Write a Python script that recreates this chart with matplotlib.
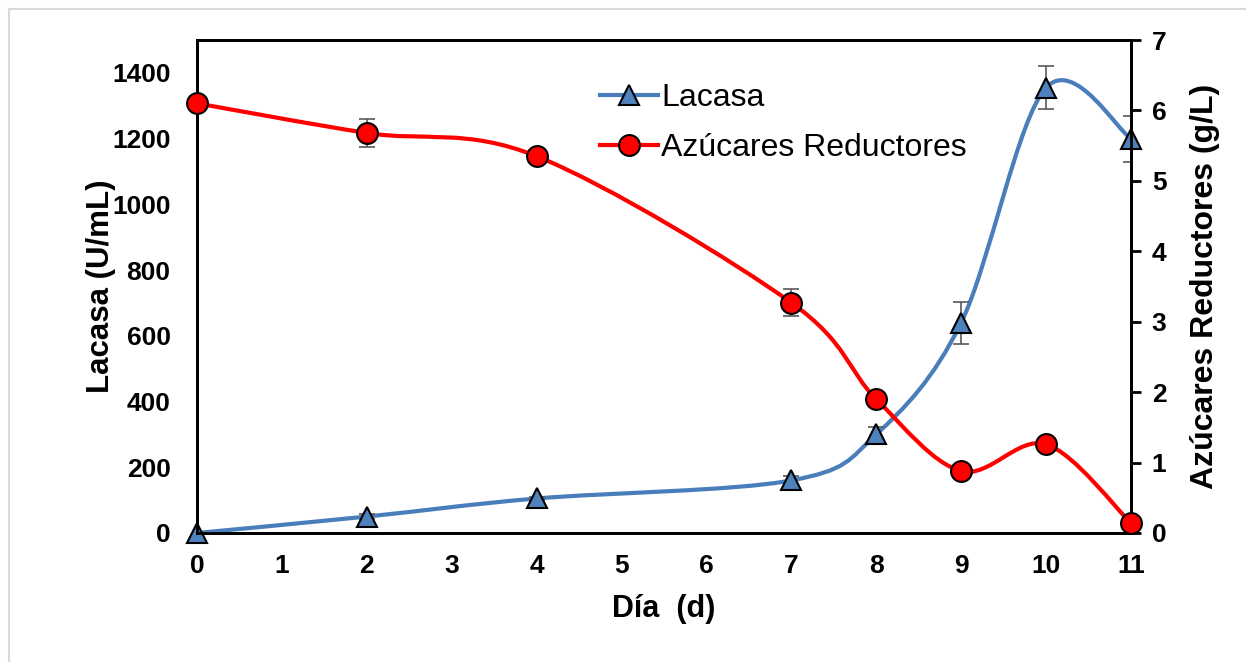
import numpy as np
import matplotlib
matplotlib.use("Agg")
import matplotlib.pyplot as plt
from matplotlib.path import Path
from matplotlib.patches import PathPatch, Rectangle

plt.rcParams['font.family'] = ['Liberation Sans', 'DejaVu Sans']

# Data
dias = [0, 2, 4, 7, 8, 9, 10, 11]
lacasa = [0, 50, 105, 160, 300, 640, 1355, 1200]
lacasa_err = [0, 8, 6, 12, 22, 64, 65, 70]
azucares = [6.1, 5.68, 5.35, 3.27, 1.9, 0.88, 1.26, 0.14]
azucares_err = [0, 0.2, 0, 0.19, 0.1, 0.08, 0.09, 0]
x_ticks = list(range(0, 12))
left_ticks = [0, 200, 400, 600, 800, 1000, 1200, 1400]
right_ticks = [0, 1, 2, 3, 4, 5, 6, 7]

BLUE = '#4F81BD'
BLUE_LINE = '#4A7EBB'
RED = '#FF0000'


def smooth_path(xs, ys):
    """Cardinal-spline (Catmull-Rom) Bezier path through the points."""
    xs = np.asarray(xs, float)
    ys = np.asarray(ys, float)
    n = len(xs)
    verts = [(xs[0], ys[0])]
    codes = [Path.MOVETO]
    for i in range(n - 1):
        p0 = np.array([xs[max(i - 1, 0)], ys[max(i - 1, 0)]])
        p1 = np.array([xs[i], ys[i]])
        p2 = np.array([xs[i + 1], ys[i + 1]])
        p3 = np.array([xs[min(i + 2, n - 1)], ys[min(i + 2, n - 1)]])
        c1 = p1 + (p2 - p0) / 6.0
        c2 = p2 - (p3 - p1) / 6.0
        verts += [tuple(c1), tuple(c2), tuple(p2)]
        codes += [Path.CURVE4] * 3
    return Path(verts, codes)


fig = plt.figure(figsize=(12.46, 6.62), dpi=100)
fig.patch.set_facecolor('white')
fig.patches.append(Rectangle((9 / 1246, -0.1), 1.2, 1.1 - 9 / 662,
                             transform=fig.transFigure, fill=False,
                             edgecolor='#D9D9D9', linewidth=1.5))

ax = fig.add_axes([197 / 1246, 1 - 533 / 662, (1131 - 197) / 1246, (533 - 40) / 662])
ax2 = ax.twinx()

ax.set_xlim(0, 11)
ax.set_ylim(0, 1500)
ax2.set_ylim(0, 7)

# Laccase activity, smoothed
ax.add_patch(PathPatch(smooth_path(dias, lacasa), fill=False, edgecolor=BLUE_LINE,
                       linewidth=3, zorder=3))
ax.errorbar(dias, lacasa, yerr=lacasa_err, fmt='none', ecolor='#595959',
            elinewidth=1.2, capsize=6, capthick=1.2, zorder=4)
ax.plot(dias, lacasa, linestyle='none', marker='^', markersize=15,
        markerfacecolor=BLUE, markeredgecolor='black', markeredgewidth=1.5,
        zorder=5, clip_on=False)

# Reducing sugars, smoothed
ax2.add_patch(PathPatch(smooth_path(dias, azucares), fill=False, edgecolor=RED,
                        linewidth=3, zorder=3))
ax2.errorbar(dias, azucares, yerr=azucares_err, fmt='none', ecolor='#595959',
             elinewidth=1.2, capsize=6, capthick=1.2, zorder=4)
ax2.plot(dias, azucares, linestyle='none', marker='o', markersize=15,
         markerfacecolor=RED, markeredgecolor='black', markeredgewidth=1.5,
         zorder=5, clip_on=False)

# Legend proxies
h1, = ax.plot([], [], color=BLUE_LINE, linewidth=3, marker='^', markersize=15,
              markerfacecolor=BLUE, markeredgecolor='black', markeredgewidth=1.5)
h2, = ax.plot([], [], color=RED, linewidth=3, marker='o', markersize=15,
              markerfacecolor=RED, markeredgecolor='black', markeredgewidth=1.5)
leg = ax2.legend([h1, h2], ['Lacasa', 'Azúcares Reductores'],
                 loc='upper left', bbox_to_anchor=(0.432, 0.912),
                 frameon=False, fontsize=23, handlelength=1.8,
                 handletextpad=0.1, labelspacing=0.62, borderaxespad=0,
                 borderpad=0)

# Axes styling
for a in (ax, ax2):
    for s in a.spines.values():
        s.set_linewidth(2)
        s.set_color('black')

ax.set_xticks(x_ticks)
ax.set_xticklabels([str(v) for v in x_ticks], fontsize=19, fontweight='bold')
ax.set_yticks(left_ticks)
ax.set_yticklabels([str(v) for v in left_ticks], fontsize=19, fontweight='bold')
ax.tick_params(axis='x', length=0, pad=15)
ax.tick_params(axis='y', length=0, pad=19)
ax2.set_yticks(right_ticks)
ax2.set_yticklabels([str(v) for v in right_ticks], fontsize=19, fontweight='bold')
ax2.tick_params(axis='y', direction='out', length=7, width=2, pad=8)

ax.set_xlabel('Día  (d)', fontsize=22, fontweight='bold', labelpad=12)
ax.set_ylabel('Lacasa (U/mL)', fontsize=22.5, fontweight='bold', labelpad=-3)
ax2.set_ylabel('Azúcares Reductores (g/L)', fontsize=23, fontweight='bold', labelpad=17)

fig.savefig('out.png', dpi=100, facecolor='white')
